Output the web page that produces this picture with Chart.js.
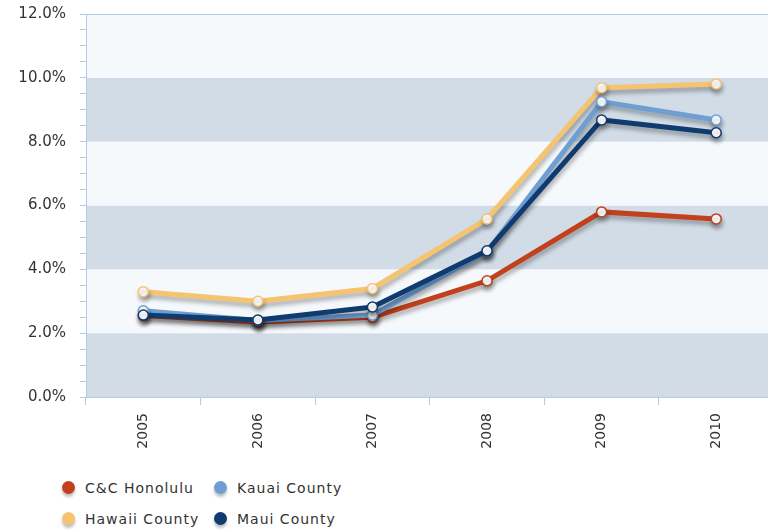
<!DOCTYPE html>
<html>
<head>
<meta charset="utf-8">
<script src="https://cdn.jsdelivr.net/npm/chart.js@4"></script>
<style>
  html, body { margin: 0; padding: 0; background: #fff; overflow: hidden; }
  #wrap { position: relative; width: 780px; height: 530px; }
  #chart { position: absolute; left: 0; top: 0; }
  .legend { position: absolute; left: 62px; top: 472px; font-family: 'DejaVu Sans', Verdana, sans-serif; font-size: 14px; letter-spacing: 1px; color: #333; }
  .legend .row { height: 31px; display: flex; align-items: center; }
  .legend .item { display: flex; align-items: center; width: 152px; }
  .legend .dot { width: 13px; height: 13px; border-radius: 50%; margin-right: 10px; box-shadow: 0 3px 3px rgba(0,0,0,0.25); }
</style>
</head>
<body>
<div id="wrap">
  <canvas id="chart" width="780" height="470"></canvas>
  <div class="legend" id="legend"></div>
</div>
<script>
// Chart data
const years = ['2005', '2006', '2007', '2008', '2009', '2010'];
const honolulu = [2.55, 2.35, 2.5, 3.64, 5.8, 5.58];
const hawaii = [3.3, 3.0, 3.4, 5.58, 9.69, 9.81];
const kauai = [2.7, 2.4, 2.57, 4.55, 9.25, 8.68];
const maui = [2.57, 2.41, 2.82, 4.58, 8.68, 8.28];
const seriesNames = ['C&C Honolulu', 'Kauai County', 'Hawaii County', 'Maui County'];
const seriesColors = ['#c2401c', '#6f9ed2', '#f6c46f', '#0f3b6f'];

const FONT = "'DejaVu Sans', Verdana, sans-serif";

// alternating horizontal bands behind the plot
const bandsPlugin = {
  id: 'bands',
  beforeDraw(chart) {
    const { ctx, chartArea, scales } = chart;
    const y = scales.y;
    ctx.save();
    for (let v = 0; v < 12; v += 2) {
      const top = y.getPixelForValue(v + 2);
      const bottom = y.getPixelForValue(v);
      ctx.fillStyle = (v / 2) % 2 === 0 ? '#d1dce6' : '#f6f9fc';
      ctx.fillRect(chartArea.left, top, chartArea.right - chartArea.left, bottom - top);
    }
    // top border line
    ctx.strokeStyle = '#b7cbe0';
    ctx.lineWidth = 1;
    ctx.beginPath();
    ctx.moveTo(chartArea.left, chartArea.top + 0.5);
    ctx.lineTo(chartArea.right, chartArea.top + 0.5);
    ctx.stroke();
    ctx.restore();
  }
};

// soft drop shadow under lines
const shadowPlugin = {
  id: 'shadow',
  beforeDatasetDraw(chart) {
    const ctx = chart.ctx;
    ctx.save();
    ctx.shadowColor = 'rgba(0,0,0,0.3)';
    ctx.shadowBlur = 4;
    ctx.shadowOffsetX = 1;
    ctx.shadowOffsetY = 4;
  },
  afterDatasetDraw(chart) {
    chart.ctx.restore();
  }
};

function lineSet(label, data, color, order) {
  return {
    label,
    data,
    borderColor: color,
    backgroundColor: color,
    borderWidth: 5,
    pointRadius: 5,
    pointBorderWidth: 1.5,
    pointBackgroundColor: '#ffffff',
    pointBorderColor: color,
    tension: 0,
    order
  };
}

new Chart(document.getElementById('chart'), {
  type: 'line',
  data: {
    labels: years,
    datasets: [
      lineSet(seriesNames[0], honolulu, seriesColors[0], 4),
      lineSet(seriesNames[2], hawaii, seriesColors[2], 3),
      lineSet(seriesNames[1], kauai, seriesColors[1], 2),
      lineSet(seriesNames[3], maui, seriesColors[3], 1)
    ]
  },
  options: {
    responsive: false,
    animation: false,
    layout: { padding: { top: 14, right: 0, left: 0, bottom: 0 } },
    plugins: {
      legend: { display: false },
      tooltip: { enabled: false }
    },
    scales: {
      x: {
        offset: true,
        grid: {
          offset: true,
          drawOnChartArea: false,
          color: '#b7cbe0',
          tickLength: 8
        },
        border: { color: '#b7cbe0' },
        ticks: {
          color: '#333',
          font: { family: FONT, size: 14 },
          maxRotation: 90,
          minRotation: 90,
          padding: 8
        },
        afterFit(scale) {
          scale.height = 73;
          scale.paddingLeft = 0;
          scale.paddingRight = 0;
        }
      },
      y: {
        min: 0,
        max: 12,
        grid: {
          drawOnChartArea: false,
          color: '#b7cbe0',
          tickLength: 6
        },
        border: { color: '#b7cbe0' },
        ticks: {
          stepSize: 0.5,
          autoSkip: false,
          color: '#333',
          font: { family: FONT, size: 15 },
          padding: 14,
          callback: v => (v % 2 === 0 ? v.toFixed(1) + '%' : '')
        },
        afterFit(scale) {
          scale.width = 86;
          scale.paddingTop = 0;
          scale.paddingBottom = 0;
        }
      }
    }
  },
  plugins: [bandsPlugin, shadowPlugin]
});

// two-row legend in the bottom-left corner
const legendRows = [[0, 1], [2, 3]];
const legendEl = document.getElementById('legend');
legendRows.forEach(row => {
  const r = document.createElement('div');
  r.className = 'row';
  row.forEach(i => {
    const it = document.createElement('div');
    it.className = 'item';
    const dot = document.createElement('span');
    dot.className = 'dot';
    dot.style.background = seriesColors[i];
    const txt = document.createElement('span');
    txt.textContent = seriesNames[i];
    it.appendChild(dot);
    it.appendChild(txt);
    r.appendChild(it);
  });
  legendEl.appendChild(r);
});
</script>
</body>
</html>
